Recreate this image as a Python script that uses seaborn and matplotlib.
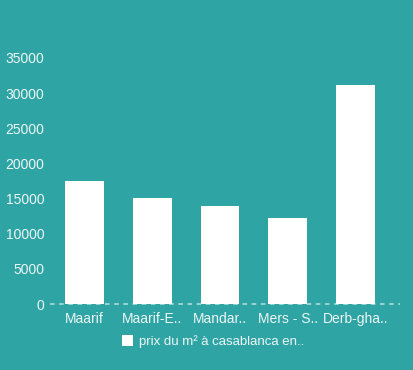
import matplotlib
matplotlib.use("Agg")
import matplotlib.pyplot as plt
import seaborn as sns
import pandas as pd
from matplotlib.patches import Patch

categories = ["Maarif", "Maarif-E..", "Mandar..", "Mers - S..", "Derb-gha.."]
values = [17500, 15100, 14000, 12200, 31100]
series_name = "prix du m² à casablanca en.."
yticks = [0, 5000, 10000, 15000, 20000, 25000, 30000, 35000]

bg = "#2fa4a4"
txt = "#eef6f6"

sns.set_theme(style="white")
plt.rcParams['font.family'] = ['Liberation Sans', 'DejaVu Sans']

df = pd.DataFrame({"cat": categories, "val": values})

fig = plt.figure(figsize=(4.14, 3.70), dpi=100, facecolor=bg)
ax = fig.add_axes([0.121, 0.178, 0.845, 0.713])
ax.set_facecolor(bg)

ax.axhline(0, color="#b9dfdf", linestyle=(0, (3, 3)), linewidth=1.1,
           zorder=0.5, clip_on=False)
sns.barplot(data=df, x="cat", y="val", color="white", width=0.57,
            saturation=1, ax=ax, edgecolor="none", zorder=2)

ax.set_xlim(-0.51, 4.66)
ax.set_ylim(0, 37500)
ax.set_yticks(yticks)
ax.set_yticklabels([str(v) for v in yticks])
ax.tick_params(axis="both", colors=txt, labelsize=10, length=0, pad=4)
ax.tick_params(axis="x", pad=6)
ax.set_xlabel("")
ax.set_ylabel("")
for s in ax.spines.values():
    s.set_visible(False)

handle = Patch(facecolor="white", edgecolor="none")
fig.legend([handle], [series_name], loc="center left",
           bbox_to_anchor=(0.265, 0.077), frameon=False, fontsize=9.5,
           labelcolor=txt, handlelength=0.9, handleheight=0.9,
           handletextpad=0.4)

fig.savefig("out.png", dpi=100, facecolor=bg)
